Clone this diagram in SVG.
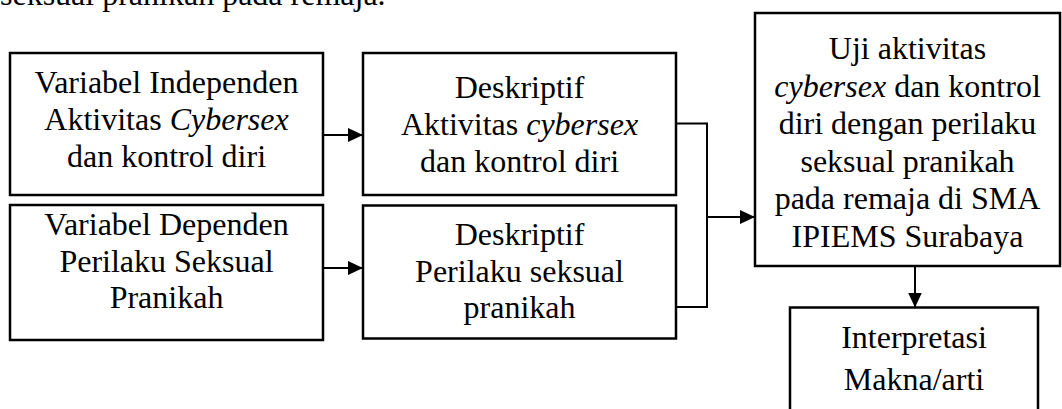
<svg xmlns="http://www.w3.org/2000/svg" width="1062" height="409" viewBox="0 0 1062 409">
<style>
text{font-family:"Liberation Serif","Times New Roman",serif;font-size:32px;fill:#000}
.c{text-anchor:middle}
.i{font-style:italic}
.box{fill:#fff;stroke:#000;stroke-width:2.5}
.ln{fill:none;stroke:#000;stroke-width:2}
</style>
<defs>
<marker id="ah" markerUnits="userSpaceOnUse" markerWidth="15" markerHeight="15" refX="15" refY="7" orient="auto" viewBox="0 0 15 14">
<path d="M0,0 L15,7 L0,14 z" fill="#000"/>
</marker>
</defs>
<rect width="1062" height="409" fill="#fff"/>
<text x="0" y="5">seksual pranikah pada remaja.</text>
<g id="connectors">
<line class="ln" x1="323" y1="135" x2="363" y2="135" marker-end="url(#ah)"/>
<line class="ln" x1="323" y1="268" x2="363" y2="268" marker-end="url(#ah)"/>
<polyline class="ln" points="676,123.5 707,123.5 707,307 676,307"/>
<line class="ln" x1="707" y1="217" x2="755" y2="217" marker-end="url(#ah)"/>
<line class="ln" x1="915" y1="266" x2="915" y2="307.5" marker-end="url(#ah)"/>
</g>
<g id="n1">
<rect class="box" x="10" y="53" width="313" height="142"/>
<text class="c" x="166.5" y="93">Variabel Independen</text>
<text class="c" x="166.5" y="130">Aktivitas <tspan class="i">Cybersex</tspan></text>
<text class="c" x="166.5" y="167">dan kontrol diri</text>
</g>
<g id="n2">
<rect class="box" x="10" y="205" width="313" height="135"/>
<text class="c" x="166.5" y="235">Variabel Dependen</text>
<text class="c" x="166.5" y="272">Perilaku Seksual</text>
<text class="c" x="166.5" y="308">Pranikah</text>
</g>
<g id="n3">
<rect class="box" x="363" y="53" width="313" height="142"/>
<text class="c" x="519.5" y="98">Deskriptif</text>
<text class="c" x="519.5" y="135">Aktivitas <tspan class="i">cybersex</tspan></text>
<text class="c" x="519.5" y="172">dan kontrol diri</text>
</g>
<g id="n4">
<rect class="box" x="363" y="205.5" width="313" height="133"/>
<text class="c" x="519.5" y="245">Deskriptif</text>
<text class="c" x="519.5" y="282">Perilaku seksual</text>
<text class="c" x="519.5" y="318">pranikah</text>
</g>
<g id="n5">
<rect class="box" x="755" y="13" width="305" height="253"/>
<text class="c" x="907.5" y="59">Uji aktivitas</text>
<text class="c" x="907.5" y="96.5"><tspan class="i">cybersex</tspan> dan kontrol</text>
<text class="c" x="907.5" y="134">diri dengan perilaku</text>
<text class="c" x="907.5" y="171.5">seksual pranikah</text>
<text class="c" x="907.5" y="209">pada remaja di SMA</text>
<text class="c" x="907.5" y="246.5">IPIEMS Surabaya</text>
</g>
<g id="n6">
<rect class="box" x="790" y="307.5" width="248" height="120"/>
<text class="c" x="914" y="348">Interpretasi</text>
<text class="c" x="914" y="390">Makna/arti</text>
</g>
</svg>
